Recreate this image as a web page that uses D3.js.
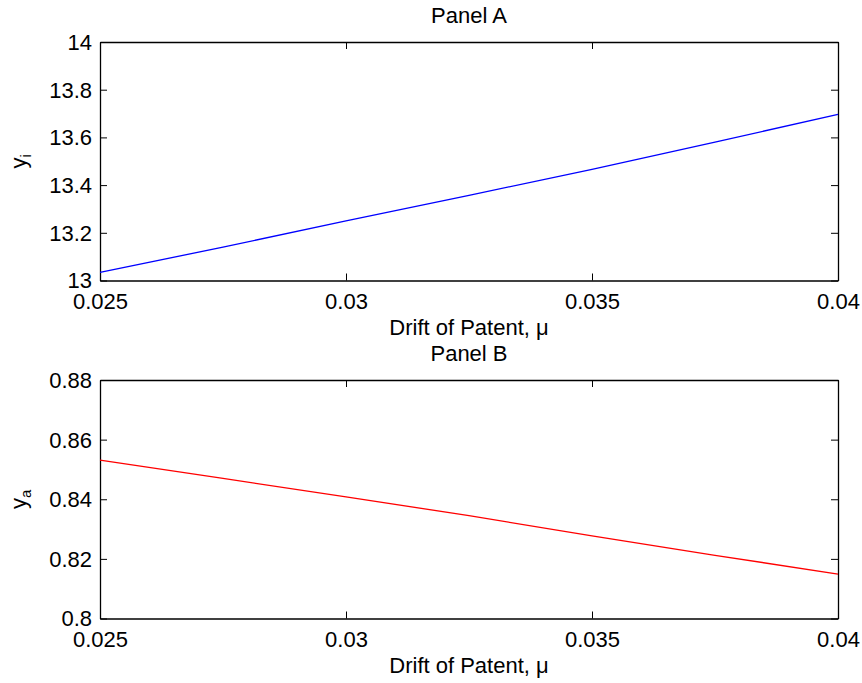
<!DOCTYPE html>
<html>
<head>
<meta charset="utf-8">
<script src="https://cdn.jsdelivr.net/npm/d3@7"></script>
<style>
  html, body { margin: 0; padding: 0; background: #fff; }
  svg { display: block; font-family: "Liberation Sans", Arial, Helvetica, sans-serif; }
</style>
</head>
<body>
<svg id="chart" width="862" height="683"></svg>
<script>
// ---- data ----
const mu = [0.025, 0.0275, 0.03, 0.0325, 0.035, 0.0375, 0.04];
const yI = [13.034, 13.14, 13.25, 13.357, 13.466, 13.58, 13.697];
const yA = [0.8531, 0.847, 0.8408, 0.8345, 0.8277, 0.8212, 0.8149];
const xTicks = [0.025, 0.03, 0.035, 0.04];
const xTickLabels = ["0.025", "0.03", "0.035", "0.04"];
const yTicksA = [13, 13.2, 13.4, 13.6, 13.8, 14];
const yTickLabelsA = ["13", "13.2", "13.4", "13.6", "13.8", "14"];
const yTicksB = [0.8, 0.82, 0.84, 0.86, 0.88];
const yTickLabelsB = ["0.8", "0.82", "0.84", "0.86", "0.88"];
const titles = ["Panel A", "Panel B"];
const xLabel = "Drift of Patent, \u03bc";

const svg = d3.select("#chart");
const L = 100, R = 838, FS = 22, TL = 7;

function panel(top, bottom, yDomain, ys, yTicks, yLabels, color, title, ySub) {
  const x = d3.scaleLinear().domain([0.025, 0.04]).range([L, R]);
  const y = d3.scaleLinear().domain(yDomain).range([bottom, top]);
  const g = svg.append("g");

  const xb = g.append("g").attr("transform", `translate(0,${bottom})`)
    .call(d3.axisBottom(x).tickValues(xTicks).tickFormat((d, i) => xTickLabels[i]).tickSizeInner(-TL).tickSizeOuter(0).tickPadding(TL + 6));
  const xt = g.append("g").attr("transform", `translate(0,${top})`)
    .call(d3.axisTop(x).tickValues(xTicks).tickFormat("").tickSizeInner(-TL).tickSizeOuter(0));
  const yl = g.append("g").attr("transform", `translate(${L},0)`)
    .call(d3.axisLeft(y).tickValues(yTicks).tickFormat((d, i) => yLabels[i]).tickSizeInner(-TL).tickSizeOuter(0).tickPadding(8));
  const yr = g.append("g").attr("transform", `translate(${R},0)`)
    .call(d3.axisRight(y).tickValues(yTicks).tickFormat("").tickSizeInner(-TL).tickSizeOuter(0));

  [xb, xt, yl, yr].forEach(a => {
    a.selectAll("path.domain").attr("stroke", "#000").attr("stroke-width", 1.3);
    a.selectAll(".tick line").attr("stroke", "#000").attr("stroke-width", 1);
    a.selectAll(".tick text").attr("fill", "#000").attr("font-size", FS).attr("font-family", "Liberation Sans, Arial, sans-serif");
  });
  xb.selectAll(".tick text").attr("dy", "0.71em");
  yl.selectAll(".tick text").attr("dy", "0.34em");

  g.append("path")
    .datum(mu.map((m, i) => [m, ys[i]]))
    .attr("fill", "none")
    .attr("stroke", color)
    .attr("stroke-width", 1.3)
    .attr("d", d3.line().x(d => x(d[0])).y(d => y(d[1])));

  g.append("text").attr("x", (L + R) / 2).attr("y", top - 19)
    .attr("text-anchor", "middle").attr("font-size", FS).text(title);
  g.append("text").attr("x", (L + R) / 2).attr("y", bottom + 54)
    .attr("text-anchor", "middle").attr("font-size", FS).text(xLabel);
  const yt = g.append("text")
    .attr("transform", `translate(26,${(top + bottom) / 2}) rotate(-90)`)
    .attr("text-anchor", "middle").attr("font-size", FS);
  yt.append("tspan").text("y");
  yt.append("tspan").attr("dy", 5).attr("font-size", 15).text(ySub);
}

panel(42, 280.5, [13, 14], yI, yTicksA, yTickLabelsA, "#0000ff", titles[0], "i");
panel(380, 618.5, [0.8, 0.88], yA, yTicksB, yTickLabelsB, "#ff0000", titles[1], "a");
</script>
</body>
</html>
